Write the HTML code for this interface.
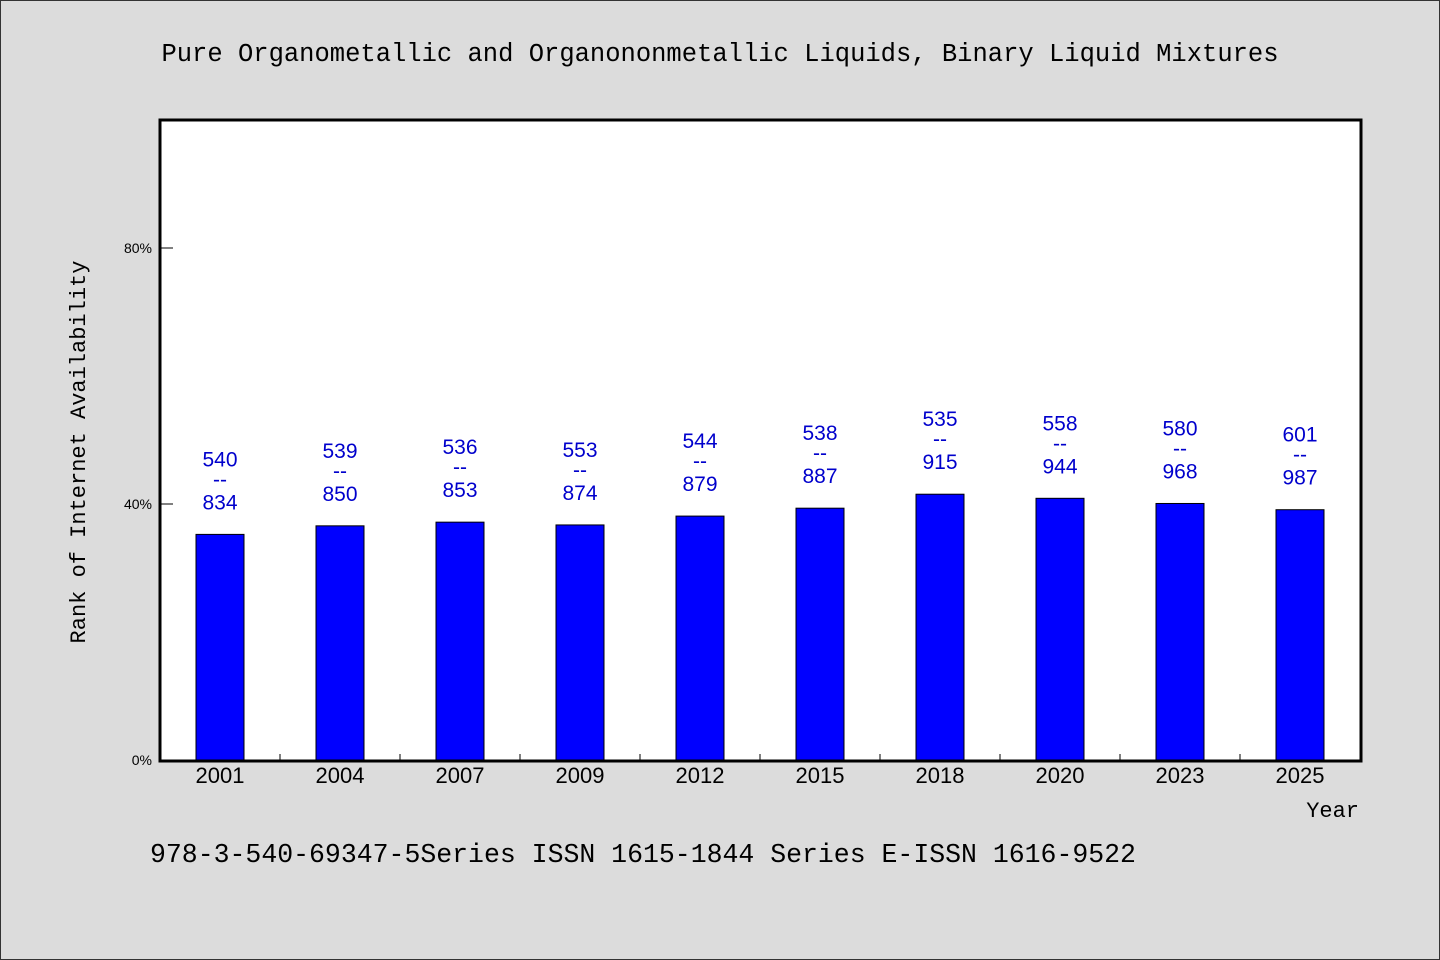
<!DOCTYPE html>
<html><head><meta charset="utf-8"><style>
body{margin:0;background:#dcdcdc;}
svg{display:block;}
</style></head><body>
<svg width="1440" height="960" xmlns="http://www.w3.org/2000/svg">
<rect x="0.5" y="0.5" width="1439" height="959" fill="#dcdcdc" stroke="#333"/>
<text x="720" y="61" text-anchor="middle" font-family="Liberation Mono, monospace" font-size="25.5" fill="#000">Pure Organometallic and Organononmetallic Liquids, Binary Liquid Mixtures</text>
<rect x="160" y="120" width="1201" height="641" fill="#fff" stroke="#000" stroke-width="3"/>
<g id="yaxis"></g>
<g id="xaxis"></g>
<g id="bars"></g>
<text transform="translate(85,452) rotate(-90)" text-anchor="middle" font-family="Liberation Mono, monospace" font-size="22" fill="#000">Rank of Internet Availability</text>
<text x="1359" y="817" text-anchor="end" font-family="Liberation Mono, monospace" font-size="22" fill="#000">Year</text>
<text x="150" y="862" font-family="Liberation Mono, monospace" font-size="26.5" fill="#000">978-3-540-69347-5Series ISSN 1615-1844 Series E-ISSN 1616-9522</text>
</svg>
<script>
const years=["2001","2004","2007","2009","2012","2015","2018","2020","2023","2025"];
const ranks=[540,539,536,553,544,538,535,558,580,601];
const totals=[834,850,853,874,879,887,915,944,968,987];
const yTicks=[0,40,80];
const NS="http://www.w3.org/2000/svg";
const x0=160,bandW=120,yBase=760,yTop=120;
function yScale(p){return yBase-(p/100)*(yBase-yTop);}
function xCenter(i){return x0+bandW*i+bandW/2;}
function mk(tag,attrs,parent){const e=document.createElementNS(NS,tag);for(const k in attrs)e.setAttribute(k,attrs[k]);parent.appendChild(e);return e;}
const ya=document.getElementById('yaxis');
yTicks.forEach(t=>{
  const l=mk('line',{x1:160,x2:173,y1:yScale(t),y2:yScale(t),stroke:'#000','stroke-width':1},ya);
  
  
  const tx=mk('text',{x:152,y:yScale(t)+5,'text-anchor':'end','font-family':'Liberation Sans, sans-serif','font-size':14,fill:'#000'},ya);
  tx.textContent=t+'%';
  
  
});
const xa=document.getElementById('xaxis');
years.forEach((y,i)=>{
  if(i>0){const l=mk('line',{x1:x0+bandW*i,x2:x0+bandW*i,y1:754,y2:760,stroke:'#000','stroke-width':1},xa);
  
  }
  const tx=mk('text',{x:xCenter(i),y:783,'text-anchor':'middle','font-family':'Liberation Sans, sans-serif','font-size':22,fill:'#000'},xa);
  tx.textContent=y;
  
  
});
const bg=document.getElementById('bars');
years.forEach((y,i)=>{
  const pct=(1-ranks[i]/totals[i])*100;
  const top=yScale(pct);
  const r=mk('rect',{x:xCenter(i)-24,y:top,width:48,height:yBase-top,fill:'#0000ff',stroke:'#000','stroke-width':1},bg);
  
  
  const attrs={'text-anchor':'middle','font-family':'Liberation Sans, sans-serif','font-size':21,fill:'#0000cc'};
  const t1=mk('text',Object.assign({x:xCenter(i),y:top-68},attrs),bg);
  t1.textContent=ranks[i];
  
  
  const t2=mk('text',Object.assign({x:xCenter(i),y:top-48},attrs),bg);
  t2.textContent='--';
  
  
  const t3=mk('text',Object.assign({x:xCenter(i),y:top-25},attrs),bg);
  t3.textContent=totals[i];
  
  
});
</script>
</body></html>
